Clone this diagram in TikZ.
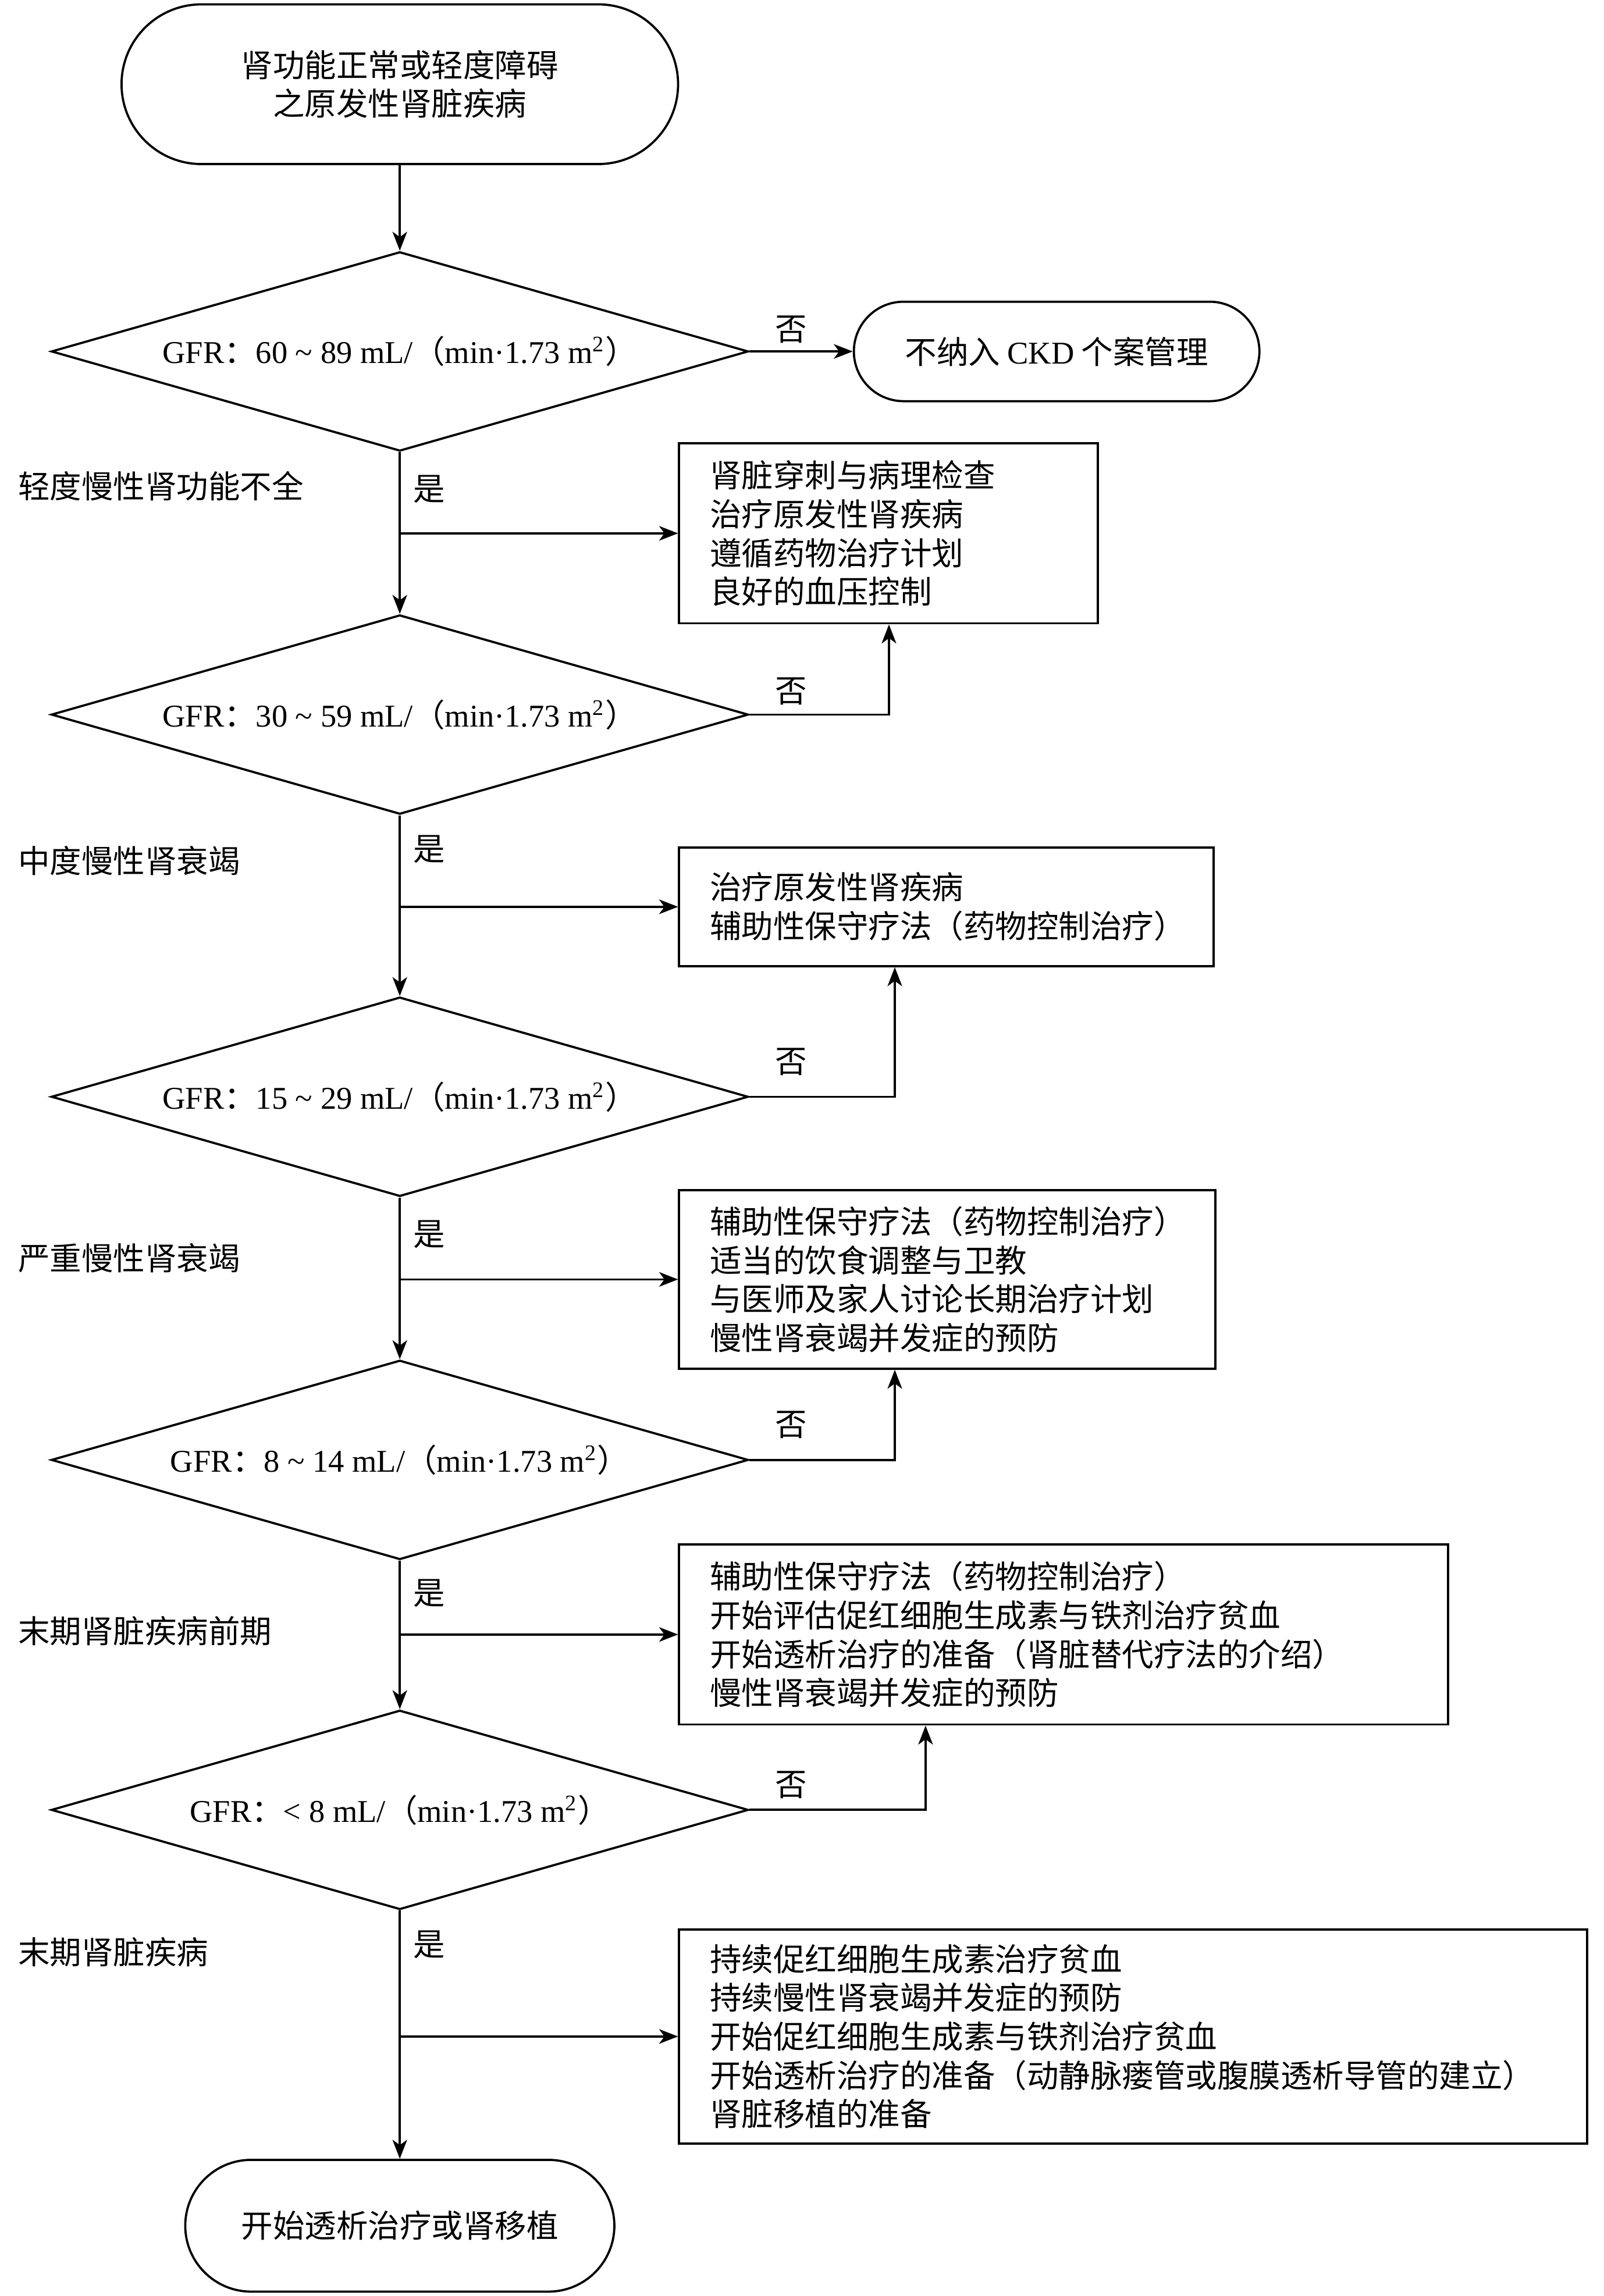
\documentclass[tikz,border=0pt]{standalone}
\usepackage{fontspec}
\setmainfont{Noto Sans CJK SC}
\newfontfamily\lat{Liberation Serif}
\usetikzlibrary{shapes.geometric,shapes.misc,arrows.meta,calc}
\newcommand{\gfrtxt}[1]{{\lat GFR}：{\lat #1 mL/}（{\lat min·1.73 m\textsuperscript{2}}）}
\begin{document}
\begin{tikzpicture}[x=0.5034pt,y=-0.5034pt,
  every node/.style={font=\fontsize{10.9pt}{13.34pt}\selectfont},
  term/.style={rounded rectangle, draw, line width=0.75pt, align=center, inner sep=0pt},
  dec/.style={diamond, draw, line width=0.75pt, aspect=3.5, minimum width=239.6pt, minimum height=68.5pt, inner sep=0pt},
  box/.style={draw, rectangle, line width=0.75pt, align=left, inner xsep=10.57pt, inner ysep=0pt, anchor=north west},
  lbl/.style={anchor=west, inner sep=0pt},
  yn/.style={inner sep=0pt},
  arr/.style={-{Stealth[length=6.5pt,width=5pt,inset=1.8pt]}, line width=0.75pt}]
\useasboundingbox (0,0) rectangle (1095,1568);

\node[term, minimum width=191.3pt, minimum height=54.9pt] (t0) at (273,57.5) {肾功能正常或轻度障碍\\之原发性肾脏疾病};
\node[dec] (d1) at (273,240) {\gfrtxt{60 \textasciitilde\ 89}};
\node[term, minimum width=139.4pt, minimum height=34.2pt] (t1) at (721.5,240) {不纳入 {\lat CKD} 个案管理};
\node[box, minimum width=143.97pt, minimum height=61.9pt, text width=122.8pt] (b1) at (463,302) {肾脏穿刺与病理检查\\治疗原发性肾疾病\\遵循药物治疗计划\\良好的血压控制};
\node[dec] (d2) at (273,488) {\gfrtxt{30 \textasciitilde\ 59}};
\node[box, minimum width=183.7pt, minimum height=40.8pt, text width=162.6pt] (b2) at (463,578) {治疗原发性肾疾病\\辅助性保守疗法（药物控制治疗）};
\node[dec] (d3) at (273,749) {\gfrtxt{15 \textasciitilde\ 29}};
\node[box, minimum width=184.2pt, minimum height=61.4pt, text width=163.1pt] (b3) at (463,812) {辅助性保守疗法（药物控制治疗）\\适当的饮食调整与卫教\\与医师及家人讨论长期治疗计划\\慢性肾衰竭并发症的预防};
\node[dec] (d4) at (273,997) {\gfrtxt{8 \textasciitilde\ 14}};
\node[box, minimum width=264.3pt, minimum height=61.9pt, text width=243.1pt] (b4) at (463,1054) {辅助性保守疗法（药物控制治疗）\\开始评估促红细胞生成素与铁剂治疗贫血\\开始透析治疗的准备（肾脏替代疗法的介绍）\\慢性肾衰竭并发症的预防};
\node[dec] (d5) at (273,1236) {\gfrtxt{< 8}};
\node[box, minimum width=312.1pt, minimum height=73.5pt, text width=291pt] (b5) at (463,1317) {持续促红细胞生成素治疗贫血\\持续慢性肾衰竭并发症的预防\\开始促红细胞生成素与铁剂治疗贫血\\开始透析治疗的准备（动静脉瘘管或腹膜透析导管的建立）\\肾脏移植的准备};
\node[term, minimum width=147.5pt, minimum height=45.3pt] (t2) at (273,1520) {开始透析治疗或肾移植};

\node[lbl] (l1) at (12,332) {轻度慢性肾功能不全};
\node[lbl] (l2) at (12,588) {中度慢性肾衰竭};
\node[lbl] (l3) at (12,859) {严重慢性肾衰竭};
\node[lbl] (l4) at (12,1114) {末期肾脏疾病前期};
\node[lbl] (l5) at (12,1333) {末期肾脏疾病};

\node[yn] (y1) at (293,334) {是};
\node[yn] (y2) at (293,580) {是};
\node[yn] (y3) at (293,843) {是};
\node[yn] (y4) at (293,1088) {是};
\node[yn] (y5) at (293,1328) {是};
\node[yn] (n1) at (540,225) {否};
\node[yn] (n2) at (540,472) {否};
\node[yn] (n3) at (540,725) {否};
\node[yn] (n4) at (540,973) {否};
\node[yn] (n5) at (540,1219) {否};

\draw[arr] (t0.south) -- (d1.north);
\draw[arr] (d1.east) -- (t1.west);
\draw[arr] (d1.south) -- (d2.north);
\draw[arr] (d2.south) -- (d3.north);
\draw[arr] (d3.south) -- (d4.north);
\draw[arr] (d4.south) -- (d5.north);
\draw[arr] (d5.south) -- (t2.north);

\draw[arr] (d1.south |- b1.west) -- (b1.west);
\draw[arr] (d2.south |- b2.west) -- (b2.west);
\draw[arr] (d3.south |- b3.west) -- (b3.west);
\draw[arr] (d4.south |- b4.west) -- (b4.west);
\draw[arr] (d5.south |- b5.west) -- (b5.west);

\draw[arr] (d2.east) -| ($(b1.south west)+(144,0)$);
\draw[arr] (d3.east) -| ($(b2.south west)+(148,0)$);
\draw[arr] (d4.east) -| ($(b3.south west)+(148,0)$);
\draw[arr] (d5.east) -| ($(b4.south west)+(169,0)$);
\end{tikzpicture}
\end{document}
